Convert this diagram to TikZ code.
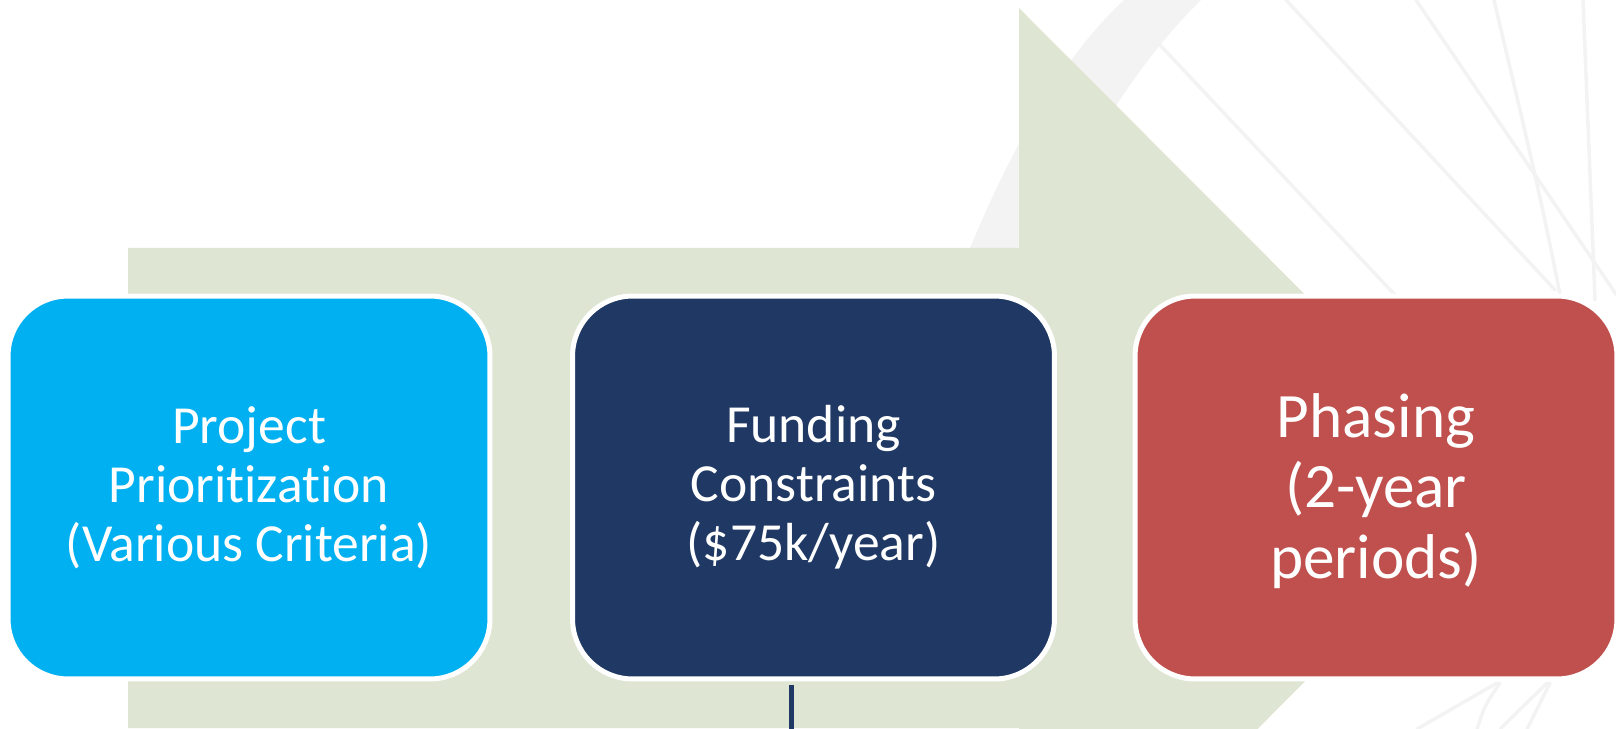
\documentclass[tikz,border=0pt]{standalone}
\usepackage{fontspec}
\setmainfont{Carlito}[Ligatures=NoCommon]
\usetikzlibrary{positioning}
\definecolor{arrowgreen}{RGB}{222,230,211}
\definecolor{critblue}{RGB}{0,176,240}
\definecolor{fundnavy}{RGB}{31,56,100}
\definecolor{phasered}{RGB}{192,80,77}
\definecolor{swirlgrey}{RGB}{243,243,243}
\tikzset{
  stage/.style={draw=white, line width=0.1cm, rounded corners=1.2cm,
    minimum width=9.64cm, minimum height=7.66cm, inner sep=0pt,
    align=center, text=white, font=\fontsize{30.5}{33.5}\selectfont},
  bigstage/.style={stage, font=\fontsize{36}{40}\selectfont},
  swirl/.style={draw=swirlgrey, line width=0.07cm, line cap=round},
  stub/.style={draw=fundnavy, line width=0.1cm},
}

\begin{document}
\begin{tikzpicture}[x=0.02cm,y=-0.02cm]
\useasboundingbox (0,0) rectangle (1616,729);
\clip (0,0) rectangle (1616,729);
% faint background swirls of the slide
\fill[swirlgrey] (965,260) .. controls (1010,150) and (1060,60) .. (1124,0)
  -- (1201,0) .. controls (1140,60) and (1080,150) .. (1040,260) -- cycle;
\draw[swirl] (1160,45) -- (1395,295);
\draw[swirl] (1286,0) -- (1555,290);
\draw[swirl] (1416,0) -- (1620,300);
\draw[swirl] (1494,0) .. controls (1515,90) and (1540,190) .. (1560,295);
\draw[swirl] (1583,0) -- (1595,300);
\draw[swirl] (1417,729) -- (1497,683);
\draw[swirl] (1477,729) .. controls (1485,705) .. (1500,683);
\draw[swirl] (1500,729) -- (1547,683);
\draw[swirl] (1527,729) -- (1550,683);
% big process arrow behind the stages
\fill[arrowgreen] (128,248) -- (1019,248) -- (1019,8) -- (1498,488)
  -- (1019,968) -- (1019,728) -- (128,728) -- cycle;
\node[stage, fill=critblue] (prio) at (249,487.5) {Project\\Prioritization\\(Various Criteria)};
\node[stage, fill=fundnavy] (fund) at (813.5,487.5) {Funding\\Constraints\\(\$75k/year)};
\node[bigstage, fill=phasered] (phase) at (1376,487.5) {\rule{0pt}{29pt}Phasing\\(2-year\\periods)};
\coordinate (tail) at (791,729);
\draw[stub] ([yshift=-2pt]tail |- fund.south) -- (tail);
\end{tikzpicture}
\end{document}
